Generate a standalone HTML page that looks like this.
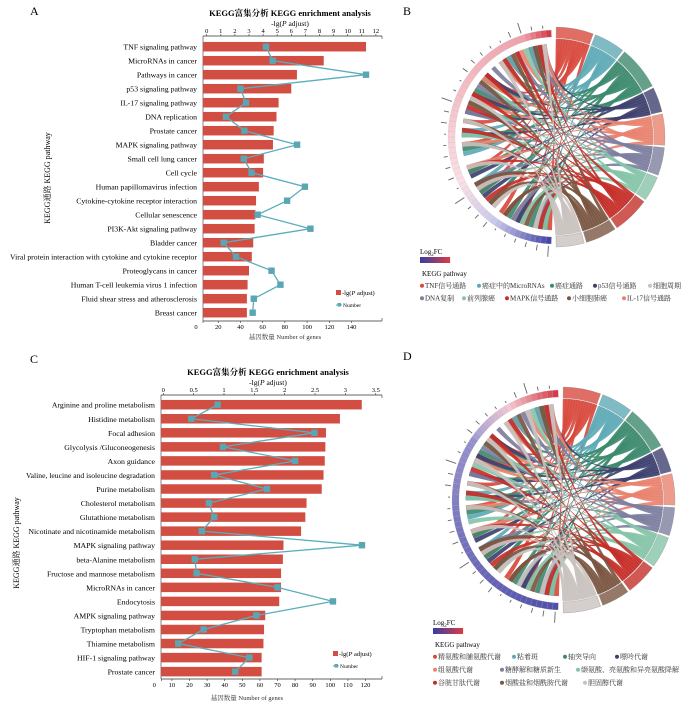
<!DOCTYPE html>
<html><head><meta charset="utf-8">
<style>
html,body{margin:0;padding:0;background:#fff;}
svg{display:block;font-family:"Liberation Serif","Noto Serif CJK SC",serif;}
</style></head>
<body>
<svg id="fig" width="700" height="710" viewBox="0 0 700 710" xmlns="http://www.w3.org/2000/svg">
<text x="30" y="15" font-size="12">A</text>
<text x="403" y="15" font-size="12">B</text>
<text x="30" y="363" font-size="12">C</text>
<text x="403" y="360" font-size="12">D</text>
<g id="pa"></g>
<g id="pc"></g>
<g id="pb"></g>
<g id="pd"></g>
</svg>
<script>
// ---------- Panel A data ----------
const catsA = ["TNF signaling pathway","MicroRNAs in cancer","Pathways in cancer","p53 signaling pathway","IL-17 signaling pathway","DNA replication","Prostate cancer","MAPK signaling pathway","Small cell lung cancer","Cell cycle","Human papillomavirus infection","Cytokine-cytokine receptor interaction","Cellular senescence","PI3K-Akt signaling pathway","Bladder cancer","Viral protein interaction with cytokine and cytokine receptor","Proteoglycans in cancer","Human T-cell leukemia virus 1 infection","Fluid shear stress and atherosclerosis","Breast cancer"];
const padjA = [11.3,8.3,6.4,6.0,5.1,4.95,4.75,4.7,4.05,4.0,3.7,3.5,3.45,3.4,3.3,3.2,3.0,2.9,2.85,2.85];
const genesA = [63,69,153,40,45,27,43.5,91,43,50,98,82,55.5,103,25,36,68,76,52,51];
const topTicksA = ["0","1","2","3","4","5","6","7","8","9","10","11","12"];
const topTickValsA = [0,1,2,3,4,5,6,7,8,9,10,11,12];
const botTicksA = [0,20,40,60,80,100,120,140];
// ---------- Panel C data ----------
const catsC = ["Arginine and proline metabolism","Histidine metabolism","Focal adhesion","Glycolysis /Gluconeogenesis","Axon guidance","Valine, leucine and isoleucine degradation","Purine metabolism","Cholesterol metabolism","Glutathione metabolism","Nicotinate  and nicotinamide metabolism","MAPK signaling pathway","beta-Alanine metabolism","Fructose and mannose metabolism","MicroRNAs in cancer","Endocytosis","AMPK signaling pathway","Tryptophan metabolism","Thiamine metabolism","HIF-1 signaling pathway","Prostate cancer"];
const padjC = [3.27,2.91,2.68,2.67,2.66,2.64,2.61,2.36,2.34,2.27,1.98,1.97,1.94,1.94,1.91,1.68,1.66,1.65,1.62,1.62];
const genesC = [36,21,91,39,80,34,64,31,34,27,118,23,24,70,101.5,58,28,13.6,54,46];
const topTicksC = ["0","0.5","1","1.5","2","2.5","3","3.5"];
const topTickValsC = [0,0.5,1,1.5,2,2.5,3,3.5];
const botTicksC = [0,10,20,30,40,50,60,70,80,90,100,110,120];
// ---------- Chord data ----------
const pathwaysB = ["TNF信号通路","癌症中的MicroRNAs","癌症通路","p53信号通路","IL-17信号通路","DNA复制","前列腺癌","MAPK信号通路","小细胞肺癌","细胞周期"];
const pathColorsB = ["#d84a3e","#5eaab6","#3d8a6e","#3e416f","#e8836f","#7d7f9f","#86c4a8","#c52f29","#7a5641","#c9c2bf"];
const pathGenesB = [12,10,14,8,10,9,8,12,10,9];
const pathwaysD = ["精氨酸和脯氨酸代谢","粘着斑","轴突导向","嘌呤代谢","组氨酸代谢","糖酵解和糖质新生","缬氨酸、亮氨酸和异亮氨酸降解","谷胱甘肽代谢","烟酸盐和烟酰胺代谢","胆固醇代谢"];
const pathColorsD = ["#d84a3e","#5eaab6","#3d8a6e","#3e416f","#e8836f","#7d7f9f","#86c4a8","#c52f29","#7a5641","#c9c2bf"];
const pathGenesD = [12,10,14,8,10,9,10,10,9,12];

const NS="http://www.w3.org/2000/svg";
function mk(parent,tag,attrs,txt){const e=document.createElementNS(NS,tag);for(const k in attrs)e.setAttribute(k,attrs[k]);if(txt!==undefined)e.textContent=txt;parent.appendChild(e);return e;}

function barChart(g,c){
  const xTop=v=>c.x0+c.sx*v, xBot=n=>c.n0+c.sn*n, rowY=i=>c.row0+c.step*i;
  let t=mk(g,'text',{x:c.titleX,y:c.titleY,'font-size':8.5,'font-weight':'bold','text-anchor':'middle'},'KEGG富集分析   KEGG enrichment analysis');
  
  t=mk(g,'text',{x:c.titleX,y:c.titleY+10,'font-size':7.5,'text-anchor':'middle'});
  
  t.innerHTML='-lg(<tspan font-style="italic">P</tspan> adjust)';
  let l=mk(g,'line',{x1:c.left,x2:c.right,y1:c.topY,y2:c.topY,stroke:'#333','stroke-width':0.8});
  
  c.topVals.forEach((v,i)=>{
    mk(g,'line',{x1:xTop(v),x2:xTop(v),y1:c.topY,y2:c.topY-2,stroke:'#333','stroke-width':0.6});
    const tt=mk(g,'text',{x:xTop(v),y:c.topY-3,'font-size':6.5,'text-anchor':'middle'},c.topLabels[i]);
    
  });
  mk(g,'line',{x1:c.right,x2:c.right,y1:c.topY,y2:c.topY+3,stroke:'#333','stroke-width':0.6});
  l=mk(g,'line',{x1:c.left,x2:c.right,y1:c.botY,y2:c.botY,stroke:'#333','stroke-width':0.8});
  
  c.botTicks.forEach(n=>{
    mk(g,'line',{x1:xBot(n)+(n===0?7:0),x2:xBot(n)+(n===0?7:0),y1:c.botY,y2:c.botY+2,stroke:'#333','stroke-width':0.6});
    const tt=mk(g,'text',{x:xBot(n),y:c.botY+8,'font-size':6.5,'text-anchor':'middle'},String(n));
    
  });
  mk(g,'line',{x1:c.right,x2:c.right,y1:c.botY,y2:c.botY-3,stroke:'#333','stroke-width':0.6});
  t=mk(g,'text',{x:c.botTitleX,y:c.botTitleY,'font-size':6.5,'text-anchor':'middle',fill:'#333'},'基因数量    Number of genes');
  
  mk(g,'line',{x1:c.left,x2:c.left,y1:c.topY,y2:c.botY,stroke:'#333','stroke-width':0.6});
  t=mk(g,'text',{x:0,y:0,'font-size':8,'text-anchor':'middle',transform:`translate(${c.yTitleX},${c.yTitleY}) rotate(-90)`},'KEGG通路      KEGG pathway');
  
  c.cats.forEach((cat,i)=>{
    const y=rowY(i);
    const b=mk(g,'rect',{x:c.left,y:y-c.barH/2,width:Math.max(0,xTop(c.vals[i])-c.left),height:c.barH,fill:'#d24e43'});
    
    const tl=mk(g,'text',{x:c.labelX,y:y+3,'font-size':7.8,'text-anchor':'end'},cat);
    
    const maxW=c.labelX-c.minX;
    if(tl.getComputedTextLength()>maxW){tl.setAttribute('textLength',maxW);tl.setAttribute('lengthAdjust','spacingAndGlyphs');}
  });
  const pts=c.nums.map((n,i)=>xBot(n)+','+rowY(i)).join(' ');
  const pl=mk(g,'polyline',{points:pts,fill:'none',stroke:'#5aaebb','stroke-width':1.3});
  
  c.nums.forEach((n,i)=>{
    const p=mk(g,'rect',{x:xBot(n)-3.2,y:rowY(i)-3.2,width:6.4,height:6.4,fill:'#5ba6b3'});
    
  });
  let r=mk(g,'rect',{x:c.legX,y:c.legY-4,width:5,height:5,fill:'#d24e43'});
  
  t=mk(g,'text',{x:c.legX+6,y:c.legY+1,'font-size':6.5});
  t.innerHTML='-lg(<tspan font-style="italic">P</tspan> adjust)';
  
  mk(g,'line',{x1:c.legX,x2:c.legX+6,y1:c.legY+11,y2:c.legY+11,stroke:'#5aaebb','stroke-width':1});
  r=mk(g,'rect',{x:c.legX+1.5,y:c.legY+9,width:3.5,height:3.5,fill:'#5ba6b3'});
  
  t=mk(g,'text',{x:c.legX+7,y:c.legY+13,'font-size':5.5},'Number');
  
}

barChart(document.getElementById('pa'),{cats:catsA,vals:padjA,nums:genesA,topLabels:topTicksA,topVals:topTickValsA,botTicks:botTicksA,
  left:203,right:382,topY:36,botY:321,row0:46.7,step:14,barH:9.5,x0:206.7,sx:14.1,n0:196,sn:1.111,labelX:197,minX:10,
  titleX:290,titleY:16,botTitleX:285,botTitleY:339,yTitleX:50,yTitleY:178,legX:336,legY:294});
barChart(document.getElementById('pc'),{cats:catsC,vals:padjC,nums:genesC,topLabels:topTicksC,topVals:topTickValsC,botTicks:botTicksC,
  left:161,right:382,topY:395,botY:679,row0:404.7,step:14.05,barH:9.5,x0:163.3,sx:60.7,n0:154.3,sn:1.76,labelX:155,minX:26,
  titleX:268,titleY:375,botTitleX:247,botTitleY:700,yTitleX:19,yTitleY:543,legX:333,legY:655});

// ---------- Chord diagrams ----------
function P(cx,cy,r,a){const t=a*Math.PI/180;return [cx+r*Math.sin(t),cy-r*Math.cos(t)];}
function lighten(hex,f){const n=parseInt(hex.slice(1),16);let r=n>>16,g=(n>>8)&255,b=n&255;r=Math.round(r+(255-r)*f);g=Math.round(g+(255-g)*f);b=Math.round(b+(255-b)*f);return `rgb(${r},${g},${b})`;}
function lerpCol(c1,c2,t){return `rgb(${Math.round(c1[0]+(c2[0]-c1[0])*t)},${Math.round(c1[1]+(c2[1]-c1[1])*t)},${Math.round(c1[2]+(c2[2]-c1[2])*t)})`;}

function chordDiagram(g,c){
  const {cx,cy,r}=c;
  const N=c.genes.reduce((a,b)=>a+b,0);
  const gapR=1.2, segSpan=(180-gapR*c.genes.length)/N;
  const slots=60, slotSpan=176/slots;
  const geneAng=k=>182+slotSpan*k;
  let a=0.6, links=[];
  c.genes.forEach((n,i)=>{
    const a0=a, a1=a+n*segSpan;
    const o1=P(cx,cy,r+1,a0),o2=P(cx,cy,r+1,a1),o3=P(cx,cy,r+12,a1),o4=P(cx,cy,r+12,a0);
    const ring=mk(g,'path',{d:`M${o1} A${r+1},${r+1} 0 0 1 ${o2} L${o3} A${r+12},${r+12} 0 0 0 ${o4}Z`,fill:lighten(c.colors[i],0.2),stroke:'#888','stroke-width':0.3});
    
    const mid=(a0+a1)/2;
    for(let k=0;k<n;k++){
      const s0=a0+k*segSpan, s1=s0+segSpan+0.3;
      const slot=(i*7+k*11+((i*k)%5))%slots;
      links.push({s0,s1,b:geneAng(slot),col:c.colors[i],i,mid});
    }
    a=a1+gapR;
  });
  links.forEach(L=>{
    const w=2.6;
    const p1=P(cx,cy,r,L.s0),p2=P(cx,cy,r,L.s1),q1=P(cx,cy,r-5,L.b),q2=P(cx,cy,r-5,L.b+w);
    const c1a=P(cx,cy,r*0.55,L.s1), c1b=P(cx,cy,r*0.55,L.s0);
    const g2=P(cx,cy,r*0.35,L.b+w), g1=P(cx,cy,r*0.35,L.b);
    const d=`M${p1} A${r},${r} 0 0 1 ${p2} C${c1a} ${g2} ${q2} A${r-5},${r-5} 0 0 0 ${q1} C${g1} ${c1b} ${p1}Z`;
    const ch=mk(g,'path',{d,fill:L.col,'fill-opacity':0.92,stroke:L.col,'stroke-width':0.4});
    
  });
  for(let k=0;k<slots;k++){
    const b0=geneAng(k),b1=b0+slotSpan;
    const t=k/(slots-1);
    const col=c.fc(t);
    const o1=P(cx,cy,r+2,b0),o2=P(cx,cy,r+2,b1),o3=P(cx,cy,r+9,b1),o4=P(cx,cy,r+9,b0);
    const seg=mk(g,'path',{d:`M${o1} A${r+2},${r+2} 0 0 1 ${o2} L${o3} A${r+9},${r+9} 0 0 0 ${o4}Z`,fill:col,stroke:'#aaa','stroke-width':0.15});
    
    if(k%2===0){
      const len=(k%9===0)?11:2+((k*37)%5);
      const m0=P(cx,cy,r+11,b0+slotSpan/2),m1=P(cx,cy,r+11+len,b0+slotSpan/2);
      mk(g,'line',{x1:m0[0],y1:m0[1],x2:m1[0],y2:m1[1],stroke:'#666','stroke-width':0.9});
    }
  }
  let t=mk(g,'text',{x:c.legX,y:c.legY,'font-size':7});t.innerHTML='Log<tspan font-size="5" dy="2">2</tspan><tspan dy="-2">FC</tspan>';
  
  for(let k=0;k<30;k++){mk(g,'rect',{x:c.legX+k,y:c.legY+3,width:1.1,height:6,fill:lerpCol([60,60,160],[215,60,70],k/29)});}
  const midr=mk(g,'rect',{x:c.legX,y:c.legY+3,width:30,height:6,fill:'none'});
  
  t=mk(g,'text',{x:c.legX+2,y:c.legY+22,'font-size':7},'KEGG pathway');
  
  c.legend.forEach((row,ri)=>{
    let x=c.legX;
    row.forEach((idx,ci)=>{
      const y=c.legY+34+ri*c.rowH;
      mk(g,'circle',{cx:x+2,cy:y-2.3,r:2,fill:c.colors[idx]});
      const lt=mk(g,'text',{x:x+5,y:y,'font-size':c.fs,fill:'#333'},c.names[idx]);
      
      const maxW=c.colW[ri][ci]-7;
      if(lt.getComputedTextLength()>maxW){lt.setAttribute('textLength',maxW);lt.setAttribute('lengthAdjust','spacingAndGlyphs');}
      x+=c.colW[ri][ci];
    });
  });
}
function fcB(t){
  if(t<0.18) return lerpCol([70,70,170],[200,200,235],t/0.18);
  if(t<0.35) return lerpCol([200,200,235],[250,225,230],(t-0.18)/0.17);
  if(t<0.92) return lerpCol([250,225,230],[240,160,170],(t-0.35)/0.57);
  return lerpCol([240,160,170],[215,60,70],(t-0.92)/0.08);
}
function fcD(t){
  if(t<0.7) return lerpCol([80,80,170],[150,145,205],t/0.7);
  if(t<0.85) return lerpCol([160,155,210],[245,200,210],(t-0.7)/0.15);
  return lerpCol([245,200,210],[215,60,70],(t-0.85)/0.15);
}
chordDiagram(document.getElementById('pb'),{cx:555,cy:137,r:98,genes:pathGenesB,colors:pathColorsB,fc:fcB,names:pathwaysB,
  legX:420,legY:254,rowH:12.5,fs:7,
  legend:[[0,1,2,3,9],[5,6,7,8,4]],colW:[[57,73,43,55,40],[42,43,62,55,60]]});
chordDiagram(document.getElementById('pd'),{cx:562,cy:500,r:101,genes:pathGenesD,colors:pathColorsD,fc:fcD,names:pathwaysD,
  legX:433,legY:625,rowH:13,fs:7,
  legend:[[0,1,2,3],[4,5,6],[7,8,9]],colW:[[79,51,52,50],[67,76,124],[67,83,60]]});
</script>
</body></html>
